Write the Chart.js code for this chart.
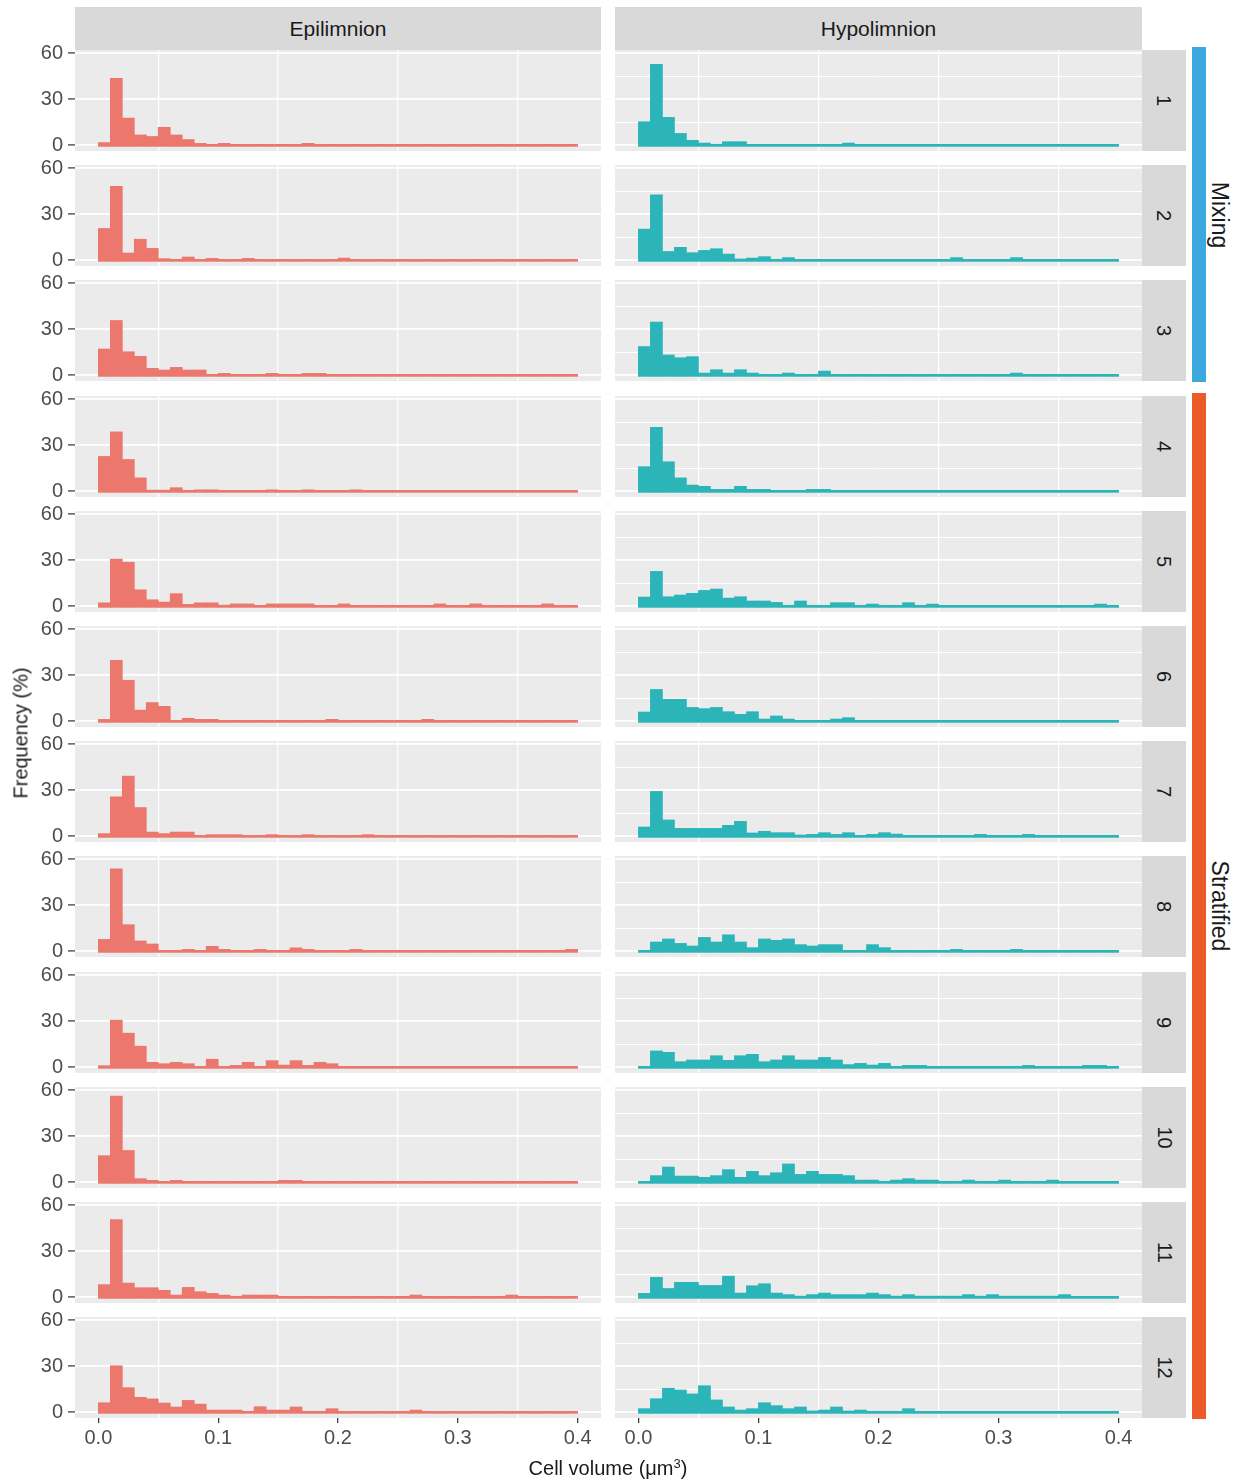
<!DOCTYPE html>
<html>
<head>
<meta charset="utf-8">
<script src="https://cdn.jsdelivr.net/npm/chart.js@4.4.1/dist/chart.umd.min.js"></script>
<style>
  body { margin: 0; background: #fff; }
  #wrap { position: relative; width: 1238px; height: 1484px; background: #fff; overflow: hidden;
          font-family: "Liberation Sans", Arial, sans-serif; color: #1A1A1A; }
  #wrap canvas { position: absolute; }
  .strip { position: absolute; background: #D9D9D9; display: flex; align-items: center; justify-content: center; }
  .lbl { position: absolute; white-space: nowrap; transform: translate(-50%, -50%); }
</style>
</head>
<body>
<div id="wrap"></div>
<script>
// categories
const layers = ['Epilimnion', 'Hypolimnion'];
const months = ['1', '2', '3', '4', '5', '6', '7', '8', '9', '10', '11', '12'];
const seasons = ['Mixing', 'Stratified'];
const seasonFirst = [0, 3];
const seasonLast = [2, 11];

// axis ticks
const xTicks = [0, 0.05, 0.1, 0.15, 0.2, 0.25, 0.3, 0.35, 0.4];
const yTicks = [0, 15, 30, 45, 60];
const binWidth = 0.01;

// Epilimnion frequency (%) per 0.01 bin
const epi1 = [2, 44, 18, 7, 6, 12, 7, 4, 1.5, 0.7, 1.5, 0, 0, 0, 0, 0, 0, 1.5, 0, 0, 0, 0, 0, 0, 0, 0, 0, 0, 0, 0, 0, 0, 0, 0, 0, 0, 0, 0, 0, 0];
const epi2 = [21, 48.5, 5, 14, 8, 1.3, 0.5, 2.4, 0.7, 1.5, 0.5, 0.5, 1.5, 0, 0, 0, 0, 0, 0, 0, 1.7, 0, 0, 0, 0, 0, 0, 0, 0, 0, 0, 0, 0, 0, 0, 0, 0, 0, 0, 0];
const epi3 = [17.4, 36, 15.6, 12.6, 4.8, 3.7, 5.4, 3.7, 3.7, 0.4, 1.5, 0.6, 0.6, 0.6, 1.5, 0.6, 0.6, 1.5, 1.5, 0, 0, 0, 0, 0, 0, 0, 0, 0, 0, 0, 0, 0, 0, 0, 0, 0, 0, 0, 0, 0];
const epi4 = [23, 39, 21, 9, 1, 1, 2.6, 0.5, 1.2, 1.2, 0, 0, 0, 0, 1.2, 0, 0, 1.2, 0, 0, 0, 1.2, 0, 0, 0, 0, 0, 0, 0, 0, 0, 0, 0, 0, 0, 0, 0, 0, 0, 0];
const epi5 = [2.5, 31, 29, 11, 4.5, 3, 8.5, 1.5, 2.5, 2.5, 1, 1.8, 1.8, 0.8, 1.8, 1.8, 1.8, 1.8, 0.8, 0.8, 1.8, 0, 0, 0, 0, 0, 0, 0, 1.8, 0, 0, 1.8, 0, 0, 0, 0, 0, 1.8, 0.5, 0.5];
const epi6 = [1.5, 40, 27, 7.5, 12.5, 10, 0.5, 2.2, 1.5, 1.5, 0, 0, 0, 0, 0, 0, 0, 0, 0, 1.5, 0, 0, 0, 0, 0, 0, 0, 1.5, 0, 0, 0, 0, 0, 0, 0, 0, 0, 0, 0, 0];
const epi7 = [2, 26, 39.5, 19, 3, 2, 3, 3, 0.5, 1.3, 1.3, 1.3, 0.5, 0.5, 1.3, 0.5, 0.5, 1.3, 0, 0, 0, 0, 1.3, 0, 0, 0, 0, 0, 0, 0, 0, 0, 0, 0, 0, 0, 0, 0, 0, 0];
const epi8 = [8, 54, 17.6, 7, 5, 0.5, 0.5, 1.5, 0.5, 3.5, 1.5, 0.5, 0.5, 1.5, 0.5, 0.5, 2.5, 1.5, 0.5, 0.5, 0.5, 1.5, 0, 0, 0, 0, 0, 0, 0, 0, 0, 0, 0, 0, 0, 0, 0, 0, 0, 1.5];
const epi9 = [1.3, 31, 22.5, 14, 3.5, 2.6, 3.5, 2.6, 0.5, 5.5, 0.7, 1.5, 3.5, 0.7, 4.6, 1.7, 4.6, 1.5, 3.5, 2.6, 0, 0, 0, 0, 0, 0, 0, 0, 0, 0, 0, 0, 0, 0, 0, 0, 0, 0, 0, 0];
const epi10 = [17.6, 56.5, 21, 2.6, 1.5, 0.7, 1.5, 0, 0, 0, 0, 0, 0, 0, 0, 1.5, 1.5, 0, 0, 0, 0, 0, 0, 0, 0, 0, 0, 0, 0, 0, 0, 0, 0, 0, 0, 0, 0, 0, 0, 0];
const epi11 = [8.5, 51, 9.5, 6.5, 6.5, 4.8, 1.7, 6.7, 3.9, 2.8, 1.7, 0.9, 1.7, 1.7, 1.7, 0, 0, 0, 0, 0, 0, 0, 0, 0, 0, 0, 1.7, 0, 0, 0, 0, 0, 0, 0, 1.7, 0, 0, 0, 0, 0];
const epi12 = [6.5, 30.6, 16.3, 10, 9, 6.3, 3.7, 8, 5.6, 1.7, 1.7, 1.7, 0.9, 3.9, 1.7, 1.7, 3.7, 0.9, 0.9, 2.6, 0.7, 0.7, 0.7, 0.7, 0.7, 0.7, 1.7, 0.5, 0.5, 0.5, 0.5, 0.5, 0.5, 0.5, 0.5, 0.5, 0.5, 0.5, 0.5, 0.5];

// Hypolimnion frequency (%) per 0.01 bin
const hypo1 = [15.6, 53, 18.5, 8, 3.5, 1.7, 0.9, 2.6, 2.6, 0.5, 0.5, 0.5, 0.5, 0.5, 0.5, 0.5, 0.5, 1.7, 0, 0, 0, 0, 0, 0, 0, 0, 0, 0, 0, 0, 0, 0, 0, 0, 0, 0, 0, 0, 0, 0];
const hypo2 = [20.6, 43, 6, 8.7, 5.2, 6.7, 7.8, 4.3, 1.1, 1.7, 2.6, 0.9, 2, 0.5, 0.5, 0.5, 0.5, 0.5, 0.5, 0.5, 0.5, 0.5, 0.5, 0.5, 0.5, 0.5, 2, 0.5, 0.5, 0.5, 0.5, 2, 0, 0, 0, 0, 0, 0, 0, 0];
const hypo3 = [19, 35, 13.5, 11.7, 12.4, 1.7, 3.9, 1.7, 3.9, 1.7, 0.6, 0.6, 1.7, 0.6, 0.6, 3, 0.4, 0.4, 0.4, 0.4, 0.4, 0.4, 0.4, 0.4, 0.4, 0.4, 0.4, 0.4, 0.4, 0.4, 0.4, 1.7, 0, 0, 0, 0, 0, 0, 0, 0];
const hypo4 = [16.3, 42, 19.5, 9, 4.3, 3.5, 1.5, 1.5, 3.5, 1.5, 1.5, 0.6, 0.6, 0.6, 1.5, 1.5, 0, 0, 0, 0, 0, 0, 0, 0, 0, 0, 0, 0, 0, 0, 0, 0, 0, 0, 0, 0, 0, 0, 0, 0];
const hypo5 = [6.3, 23, 6.5, 7.6, 8.7, 10.6, 11.5, 5.6, 6.5, 3.7, 3.7, 2.8, 0.9, 3.7, 0.9, 0.9, 2.6, 2.6, 0.9, 1.7, 0.9, 0.9, 2.6, 0.9, 1.7, 0.4, 0.4, 0.4, 0.4, 0.4, 0.4, 0.4, 0.4, 0.4, 0.4, 0.4, 0.4, 0.4, 1.7, 0.9];
const hypo6 = [6.3, 21, 14.6, 14.6, 9.3, 8.5, 9.3, 6.5, 4.8, 6.5, 1.7, 3.7, 1.7, 0.6, 0.6, 0.6, 1.7, 2.6, 0, 0, 0, 0, 0, 0, 0, 0, 0, 0, 0, 0, 0, 0, 0, 0, 0, 0, 0, 0, 0, 0];
const hypo7 = [6.3, 29.5, 10.9, 5.4, 5.4, 5.4, 5.4, 7.4, 10, 2.4, 3.5, 2.6, 2.6, 1.1, 1.5, 2.6, 1.5, 2.6, 0.6, 1.5, 2.6, 1.7, 0.4, 0.4, 0.4, 0.4, 0.4, 0.4, 1.5, 0.4, 0.4, 0.4, 1.5, 0, 0, 0, 0, 0, 0, 0];
const hypo8 = [0.4, 6.3, 8.3, 5.4, 3.7, 9.3, 6.3, 11, 6.3, 2.6, 8.3, 7.4, 8.3, 4.6, 3.7, 4.6, 4.6, 0.7, 0.7, 4.6, 2.6, 0.5, 0.5, 0.5, 0.5, 0.5, 1.5, 0.5, 0.5, 0.5, 0.5, 1.5, 0.4, 0.4, 0.4, 0.4, 0.4, 0.4, 0.4, 0.4];
const hypo9 = [0.6, 10.9, 10, 3.9, 5, 5, 7.8, 4.8, 7.8, 8.7, 3.9, 5, 7.8, 5, 5, 6.7, 5, 2, 2.8, 1.7, 2.8, 0.6, 1.5, 1.5, 0.5, 0.5, 0.5, 0.5, 0.5, 0.5, 0.5, 0.5, 1.5, 0.5, 0.5, 0.5, 0.5, 1.5, 1.5, 0.5];
const hypo10 = [0.6, 4.6, 10.2, 4.3, 4.3, 3.5, 4.6, 8.5, 3.5, 7.4, 4.6, 6.5, 12.2, 5.4, 7.4, 5.4, 5.4, 4.6, 1.7, 1.7, 0.9, 1.7, 2.6, 1.7, 1.7, 0.9, 0.9, 1.7, 0.9, 0.9, 1.7, 0.9, 0.9, 0.9, 1.7, 0.5, 0.5, 0.5, 0.5, 0.5];
const hypo11 = [2.8, 13.3, 6, 10, 10, 8, 8, 14, 3, 7.8, 9.1, 3, 2, 1, 2, 3, 2, 2, 2, 3, 2, 1, 2, 1, 1, 1, 1, 2, 1, 2, 1, 1, 1, 1, 1, 2, 0.6, 0.6, 0.6, 0.6];
const hypo12 = [2.6, 9.1, 15.9, 14.8, 12.2, 17.6, 8.3, 3.7, 1.7, 2.6, 6.5, 4.6, 2.6, 3.7, 1.1, 1.7, 3.7, 1.1, 1.7, 0.9, 0.9, 0.9, 2.6, 0.5, 0.5, 0.5, 0.5, 0.5, 0.5, 0.5, 0.5, 0.5, 0.5, 0.5, 0.5, 0.5, 0.5, 0.5, 0.5, 0.5];

const epiSeries = [epi1, epi2, epi3, epi4, epi5, epi6, epi7, epi8, epi9, epi10, epi11, epi12];
const hypoSeries = [hypo1, hypo2, hypo3, hypo4, hypo5, hypo6, hypo7, hypo8, hypo9, hypo10, hypo11, hypo12];
const binCenters = epi1.map((_, k) => (k + 0.5) * binWidth);

// layout
const X_MIN = -0.0195, X_MAX = 0.4195, Y_MIN = -3.7, Y_MAX = 62.2;
const PANEL_TOP = 50, ROW_STEP = 115.2, PANEL_H = 101, PAD_TOP = 14, PAD_BOT = 12;
const colLeft = [75, 615], colWidth = [526, 527];
const Y_AXIS_W = 75, X_AXIS_H = 44;
const barColors = ['#EB776D', '#2BB5B9'];
const seasonColors = ['#3BA8E0', '#EB5B2A'];
const FONT = '"Liberation Sans", Arial, sans-serif';
const CLEAR = 'rgba(0,0,0,0)';

const wrap = document.getElementById('wrap');
const panelTop = i => Math.round(PANEL_TOP + i * ROW_STEP);
const isTenth = v => Math.abs(v * 10 - Math.round(v * 10)) < 1e-6;
const tickVal = ctx => (ctx && ctx.tick) ? ctx.tick.value : null;

const panelBg = {
    id: 'panelBg',
    beforeDraw(chart) {
        const { ctx, chartArea: a } = chart;
        ctx.save();
        ctx.fillStyle = '#EBEBEB';
        ctx.fillRect(a.left, a.top, a.width, a.height);
        ctx.restore();
    }
};

function addDiv(cls, text, style) {
    const d = document.createElement('div');
    d.className = cls;
    d.textContent = text;
    Object.assign(d.style, style);
    wrap.appendChild(d);
    return d;
}

function makePanel(row, col, values) {
    const isLeft = col === 0, isBottom = row === months.length - 1;
    const axisL = isLeft ? Y_AXIS_W : 0;
    const axisB = isBottom ? X_AXIS_H : 0;
    const c = document.createElement('canvas');
    const w = colWidth[col] + axisL, h = PAD_TOP + PANEL_H + axisB + PAD_BOT;
    c.width = w; c.height = h;
    c.style.width = w + 'px'; c.style.height = h + 'px';
    c.style.left = (colLeft[col] - axisL) + 'px';
    c.style.top = (panelTop(row) - PAD_TOP) + 'px';
    wrap.appendChild(c);

    new Chart(c, {
        type: 'bar',
        data: {
            datasets: [{
                data: values.map((v, k) => ({ x: binCenters[k], y: v })),
                backgroundColor: barColors[col],
                borderWidth: 0,
                base: -0.9,
                barPercentage: 1.06,
                categoryPercentage: 1,
                minBarLength: 2.7,
            }]
        },
        options: {
            responsive: false,
            animation: false,
            devicePixelRatio: 1,
            layout: { padding: { top: PAD_TOP, left: 0, right: 0, bottom: PAD_BOT } },
            scales: {
                x: {
                    type: 'linear',
                    min: X_MIN,
                    max: X_MAX,
                    offset: false,
                    afterBuildTicks: s => { s.ticks = xTicks.map(v => ({ value: v })); },
                    afterFit: s => { s.height = axisB; s.paddingLeft = 0; s.paddingRight = 0; },
                    border: { display: false },
                    grid: {
                        offset: false,
                        color: ctx => {
                            const v = tickVal(ctx);
                            return v === null || isTenth(v) ? CLEAR : '#FFFFFF';
                        },
                        lineWidth: 1.3,
                        drawTicks: isBottom,
                        tickLength: 5,
                        tickWidth: 1.2,
                        tickColor: ctx => {
                            const v = tickVal(ctx);
                            return v !== null && isTenth(v) ? '#333333' : CLEAR;
                        },
                    },
                    ticks: {
                        display: isBottom,
                        autoSkip: false,
                        maxRotation: 0,
                        padding: 3,
                        color: '#4D4D4D',
                        font: { family: FONT, size: 20 },
                        callback: v => isTenth(v) ? v.toFixed(1) : '',
                    }
                },
                y: {
                    min: Y_MIN,
                    max: Y_MAX,
                    afterBuildTicks: s => { s.ticks = yTicks.map(v => ({ value: v })); },
                    afterFit: s => { s.width = axisL; s.paddingTop = 0; s.paddingBottom = 0; },
                    border: { display: false },
                    grid: {
                        color: '#FFFFFF',
                        lineWidth: ctx => {
                            const v = tickVal(ctx);
                            return v !== null && v % 30 === 0 ? 1.8 : 1.0;
                        },
                        drawTicks: isLeft,
                        tickLength: 7,
                        tickWidth: 1.2,
                        tickColor: ctx => {
                            const v = tickVal(ctx);
                            return v !== null && v % 30 === 0 ? '#333333' : CLEAR;
                        },
                    },
                    ticks: {
                        display: isLeft,
                        padding: 5,
                        color: '#4D4D4D',
                        font: { family: FONT, size: 20 },
                        callback: v => v % 30 === 0 ? String(v) : '',
                    }
                }
            },
            plugins: {
                legend: { display: false },
                tooltip: { enabled: false },
            }
        },
        plugins: [panelBg]
    });
}

// top strips
layers.forEach((name, col) => {
    addDiv('strip', name, {
        left: colLeft[col] + 'px', top: '7px', width: colWidth[col] + 'px', height: '43px', fontSize: '21px'
    });
});

// panels + right strips
months.forEach((m, row) => {
    makePanel(row, 0, epiSeries[row]);
    makePanel(row, 1, hypoSeries[row]);
    const s = addDiv('strip', '', {
        left: '1142px', top: panelTop(row) + 'px', width: '44px', height: PANEL_H + 'px'
    });
    const t = document.createElement('span');
    t.textContent = m;
    t.style.cssText = 'display:inline-block;transform:rotate(90deg);font-size:20px;';
    s.appendChild(t);
});

// season bars
seasons.forEach((name, k) => {
    const top = panelTop(seasonFirst[k]) - 3;
    const bottom = panelTop(seasonLast[k]) + PANEL_H + 1;
    addDiv('', '', {
        position: 'absolute', left: '1192px', top: top + 'px', width: '14px',
        height: (bottom - top) + 'px', background: seasonColors[k]
    });
    addDiv('lbl', name, {
        left: '1219px', top: ((top + bottom) / 2) + 'px', fontSize: '23px',
        transform: 'translate(-50%, -50%) rotate(90deg)'
    });
});

// axis titles
addDiv('lbl', 'Frequency (%)', {
    left: '21px', top: '733px', fontSize: '20px', transform: 'translate(-50%, -50%) rotate(-90deg)'
});
const xt = addDiv('lbl', '', { left: '608px', top: '1468px', fontSize: '20px' });
xt.innerHTML = 'Cell volume (μm<sup style="font-size:13px">3</sup>)';
</script>
</body>
</html>
